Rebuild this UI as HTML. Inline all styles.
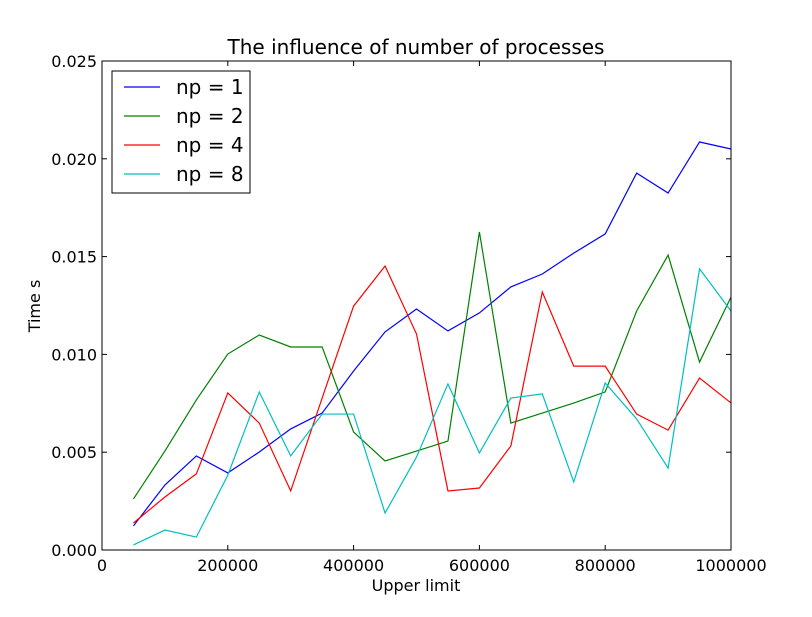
<!DOCTYPE html>
<html><head><meta charset="utf-8"><style>
body{margin:0;background:#fff;}
svg text{font-family:"DejaVu Sans","Liberation Sans",sans-serif;fill:#000;}
</style></head><body>
<svg id="c" width="812" height="612" xmlns="http://www.w3.org/2000/svg"></svg>
<script>
const xValues=[50000,100000,150000,200000,250000,300000,350000,400000,450000,500000,550000,600000,650000,700000,750000,800000,850000,900000,950000,1000000];
const np1=[0.00123,0.00332,0.00481,0.00394,0.00501,0.00619,0.0070,0.00915,0.01115,0.01232,0.0112,0.01212,0.01345,0.01411,0.01518,0.01616,0.01927,0.01825,0.02086,0.0205];
const np2=[0.00261,0.00506,0.00767,0.01002,0.01099,0.01038,0.01038,0.00603,0.00455,0.00506,0.00557,0.01626,0.00649,0.007,0.00751,0.00808,0.01222,0.01508,0.00961,0.01293];
const np4=[0.00138,0.00271,0.00389,0.00803,0.00649,0.00302,0.00777,0.01247,0.01452,0.01104,0.00302,0.00317,0.00532,0.01319,0.0094,0.0094,0.00695,0.00613,0.00879,0.00752];
const np8=[0.00026,0.00102,0.00066,0.00383,0.00808,0.00481,0.00695,0.00695,0.00189,0.00475,0.00849,0.00496,0.00777,0.00798,0.00348,0.00854,0.0067,0.00419,0.01437,0.01222];
const xTicks=[0,200000,400000,600000,800000,1000000];
const yTicks=[0,0.005,0.010,0.015,0.020,0.025];
const yTickLabels=["0.000","0.005","0.010","0.015","0.020","0.025"];
const seriesNames=["np = 1","np = 2","np = 4","np = 8"];
const seriesColors=["#0000ff","#008000","#ff0000","#00bfbf"];
const seriesData=[np1,np2,np4,np8];

const svg=document.getElementById('c');
const NS="http://www.w3.org/2000/svg";
const L=102,R=731,T=61,B=550;
const sx=v=>L+(v-0)/1000000*(R-L);
const sy=v=>B-(v/0.025)*(B-T);
function mk(tag,attrs){const e=document.createElementNS(NS,tag);for(const k in attrs)e.setAttribute(k,attrs[k]);svg.appendChild(e);return e;}

seriesData.forEach((d,i)=>{
  const pts=d.map((v,j)=>sx(xValues[j]).toFixed(2)+","+sy(v).toFixed(2)).join(" ");
  const p=mk('polyline',{points:pts,fill:'none',stroke:seriesColors[i],'stroke-width':1.2});
  
  
});

const fr=mk('rect',{x:L,y:T,width:R-L,height:B-T,fill:'none',stroke:'#000','stroke-width':1});



xTicks.forEach((v,i)=>{
  const x=sx(v);
  mk('line',{x1:x,y1:B,x2:x,y2:B-5,stroke:'#000'});
  mk('line',{x1:x,y1:T,x2:x,y2:T+5,stroke:'#000'});
  const t=mk('text',{x:x,y:B+21,'text-anchor':'middle','font-size':16});
  t.textContent=v;
  
  
});
yTicks.forEach((v,i)=>{
  const y=sy(v);
  mk('line',{x1:L,y1:y,x2:L+5,y2:y,stroke:'#000'});
  mk('line',{x1:R,y1:y,x2:R-5,y2:y,stroke:'#000'});
  const t=mk('text',{x:L-5,y:y+6,'text-anchor':'end','font-size':16});
  t.textContent=yTickLabels[i];
  
  
});

const title=mk('text',{x:416,y:54,'text-anchor':'middle','font-size':20});
title.textContent="The influence of number of processes";


const xl=mk('text',{x:416,y:591,'text-anchor':'middle','font-size':16});
xl.textContent="Upper limit";


const yl=mk('text',{x:40,y:306,'text-anchor':'middle','font-size':16,transform:'rotate(-90 40 306)'});
yl.textContent="Time s";



const lg=mk('rect',{x:112,y:71,width:138,height:122,fill:'#fff',stroke:'#000','stroke-width':1});


seriesNames.forEach((n,i)=>{
  const y=87+i*29;
  const ln=mk('line',{x1:124,y1:y,x2:160,y2:y,stroke:seriesColors[i],'stroke-width':1.2});
  
  
  const t=mk('text',{x:176,y:y+7,'font-size':20});
  t.textContent=n;
  
  
});
</script>
</body></html>
